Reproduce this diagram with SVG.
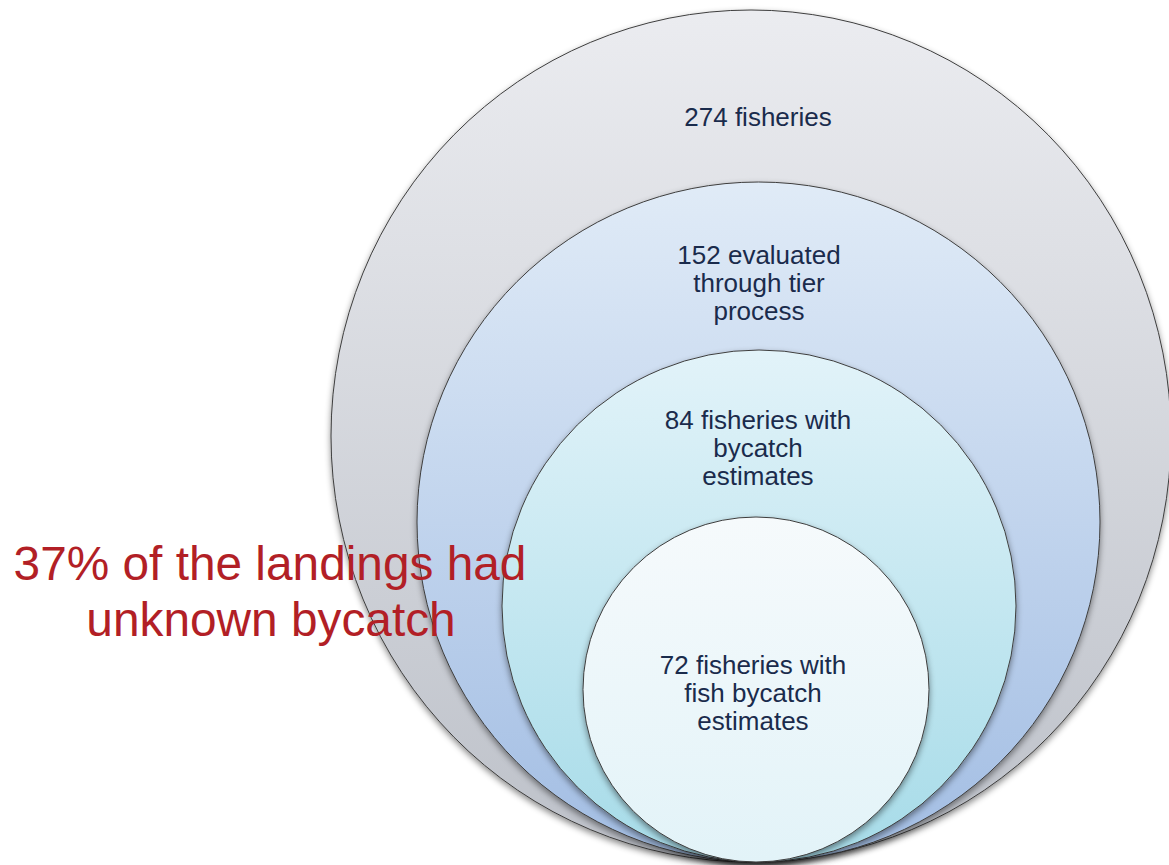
<svg xmlns="http://www.w3.org/2000/svg" width="1169" height="865" viewBox="0 0 1169 865">
  <style>
    .ring { stroke: #3e3e3e; stroke-width: 1; filter: url(#shadow); }
    .lbl { font-family: "Liberation Sans", Arial, sans-serif; font-size: 26px; fill: #1a2b4c; text-anchor: middle; }
    .note { font-family: "Liberation Sans", Arial, sans-serif; font-size: 47.8px; fill: #b21f26; text-anchor: middle; }
  </style>
  <defs>
    <filter id="shadow" x="-10%" y="-10%" width="120%" height="125%">
      <feDropShadow dx="0" dy="3" stdDeviation="3" flood-color="#000" flood-opacity="0.45"/>
    </filter>
    <linearGradient id="g1" x1="0" y1="0" x2="0" y2="1">
      <stop offset="0" stop-color="#ebecf0"/>
      <stop offset="1" stop-color="#bdc1c9"/>
    </linearGradient>
    <linearGradient id="g2" x1="0" y1="0" x2="0" y2="1">
      <stop offset="0" stop-color="#e0ebf7"/>
      <stop offset="1" stop-color="#a2bde3"/>
    </linearGradient>
    <linearGradient id="g3" x1="0" y1="0" x2="0" y2="1">
      <stop offset="0" stop-color="#e2f3f9"/>
      <stop offset="1" stop-color="#a6dbe8"/>
    </linearGradient>
    <linearGradient id="g4" x1="0" y1="0" x2="0" y2="1">
      <stop offset="0" stop-color="#f6fafc"/>
      <stop offset="1" stop-color="#e2f3f8"/>
    </linearGradient>
  </defs>
  <rect width="1169" height="865" fill="#ffffff"/>

  <g id="node-274">
    <ellipse class="ring" cx="751" cy="436" rx="420" ry="426" fill="url(#g1)"/>
    <text class="lbl" x="758" y="126">274 fisheries</text>
  </g>

  <g id="node-152">
    <ellipse class="ring" cx="758.5" cy="522" rx="341.5" ry="340" fill="url(#g2)"/>
    <text class="lbl" x="759" y="264">152 evaluated</text>
    <text class="lbl" x="759" y="292">through tier</text>
    <text class="lbl" x="759" y="320">process</text>
  </g>

  <g id="node-84">
    <ellipse class="ring" cx="759" cy="606" rx="257" ry="256" fill="url(#g3)"/>
    <text class="lbl" x="758" y="429">84 fisheries with</text>
    <text class="lbl" x="758" y="457">bycatch</text>
    <text class="lbl" x="758" y="485">estimates</text>
  </g>

  <g id="node-72">
    <ellipse class="ring" cx="756" cy="689.5" rx="173" ry="172.5" fill="url(#g4)"/>
    <text class="lbl" x="753" y="674">72 fisheries with</text>
    <text class="lbl" x="753" y="702">fish bycatch</text>
    <text class="lbl" x="753" y="730">estimates</text>
  </g>

  <g id="connectors"></g>

  <g id="note">
    <text class="note" x="270" y="580">37% of the landings had</text>
    <text class="note" x="271" y="636">unknown bycatch</text>
  </g>
</svg>
